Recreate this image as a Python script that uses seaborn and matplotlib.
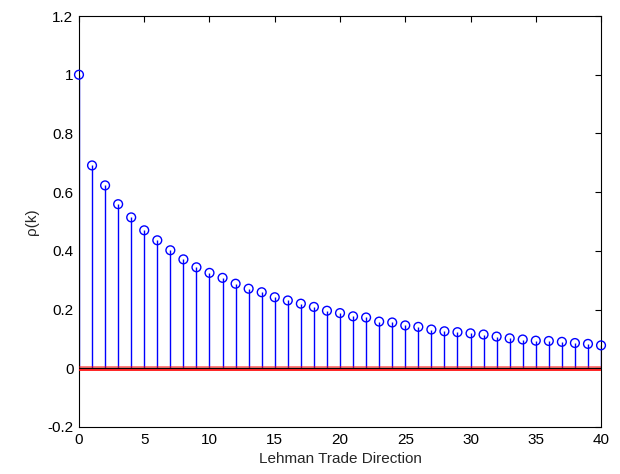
import numpy as np
import pandas as pd
import matplotlib
matplotlib.use("Agg")
import matplotlib.pyplot as plt
import seaborn as sns

# Sample autocorrelation of trade direction by lag
lags = list(range(0, 41))
acf = [1.000, 0.691, 0.623, 0.559, 0.514, 0.470, 0.436, 0.402, 0.371, 0.344,
       0.325, 0.308, 0.288, 0.271, 0.259, 0.242, 0.231, 0.220, 0.209, 0.196,
       0.188, 0.177, 0.173, 0.159, 0.156, 0.146, 0.141, 0.132, 0.126, 0.123,
       0.119, 0.115, 0.108, 0.102, 0.098, 0.094, 0.093, 0.090, 0.086, 0.083,
       0.078]
conf_bound = 0.005

xticks = [0, 5, 10, 15, 20, 25, 30, 35, 40]
yticks = [-0.2, 0, 0.2, 0.4, 0.6, 0.8, 1.0, 1.2]
ytick_labels = ["-0.2", "0", "0.2", "0.4", "0.6", "0.8", "1", "1.2"]

df = pd.DataFrame({"lag": lags, "acf": acf})

sns.set_style("white")
plt.rcParams["font.family"] = ["Liberation Sans", "DejaVu Sans"]

fig = plt.figure(figsize=(6.2, 4.74), dpi=100)
ax = fig.add_axes([0.1274, 0.0992, 0.842, 0.867])

# stems
ax.vlines(df["lag"], 0, df["acf"], color="#0000ff", lw=1.0, zorder=2)
# baseline
ax.axhline(0, color="black", lw=1.0, zorder=3)
# confidence bounds
ax.axhline(conf_bound, color="#ff0000", lw=1.2, alpha=0.6, zorder=4)
ax.axhline(-conf_bound, color="#ff0000", lw=1.2, zorder=4)
# stem heads
sns.scatterplot(data=df, x="lag", y="acf", ax=ax, marker="o", s=40,
                facecolor="none", edgecolor="#0000ff", linewidth=1.0,
                zorder=5, clip_on=False)

ax.set_xlim(0, 40)
ax.set_ylim(-0.2, 1.2)
ax.set_xticks(xticks)
ax.set_yticks(yticks)
ax.set_yticklabels(ytick_labels)
ax.tick_params(direction="in", length=4.5, width=0.8, top=True, right=True,
               labelsize=11, colors="black", pad=4)
for s in ax.spines.values():
    s.set_color("black")
    s.set_linewidth(0.8)
    s.set_visible(True)

ax.set_xlabel("Lehman Trade Direction", fontsize=11, labelpad=4)
ax.set_ylabel("ρ(k)", fontsize=11, labelpad=6)

fig.savefig("out.png", dpi=100, facecolor="white")
